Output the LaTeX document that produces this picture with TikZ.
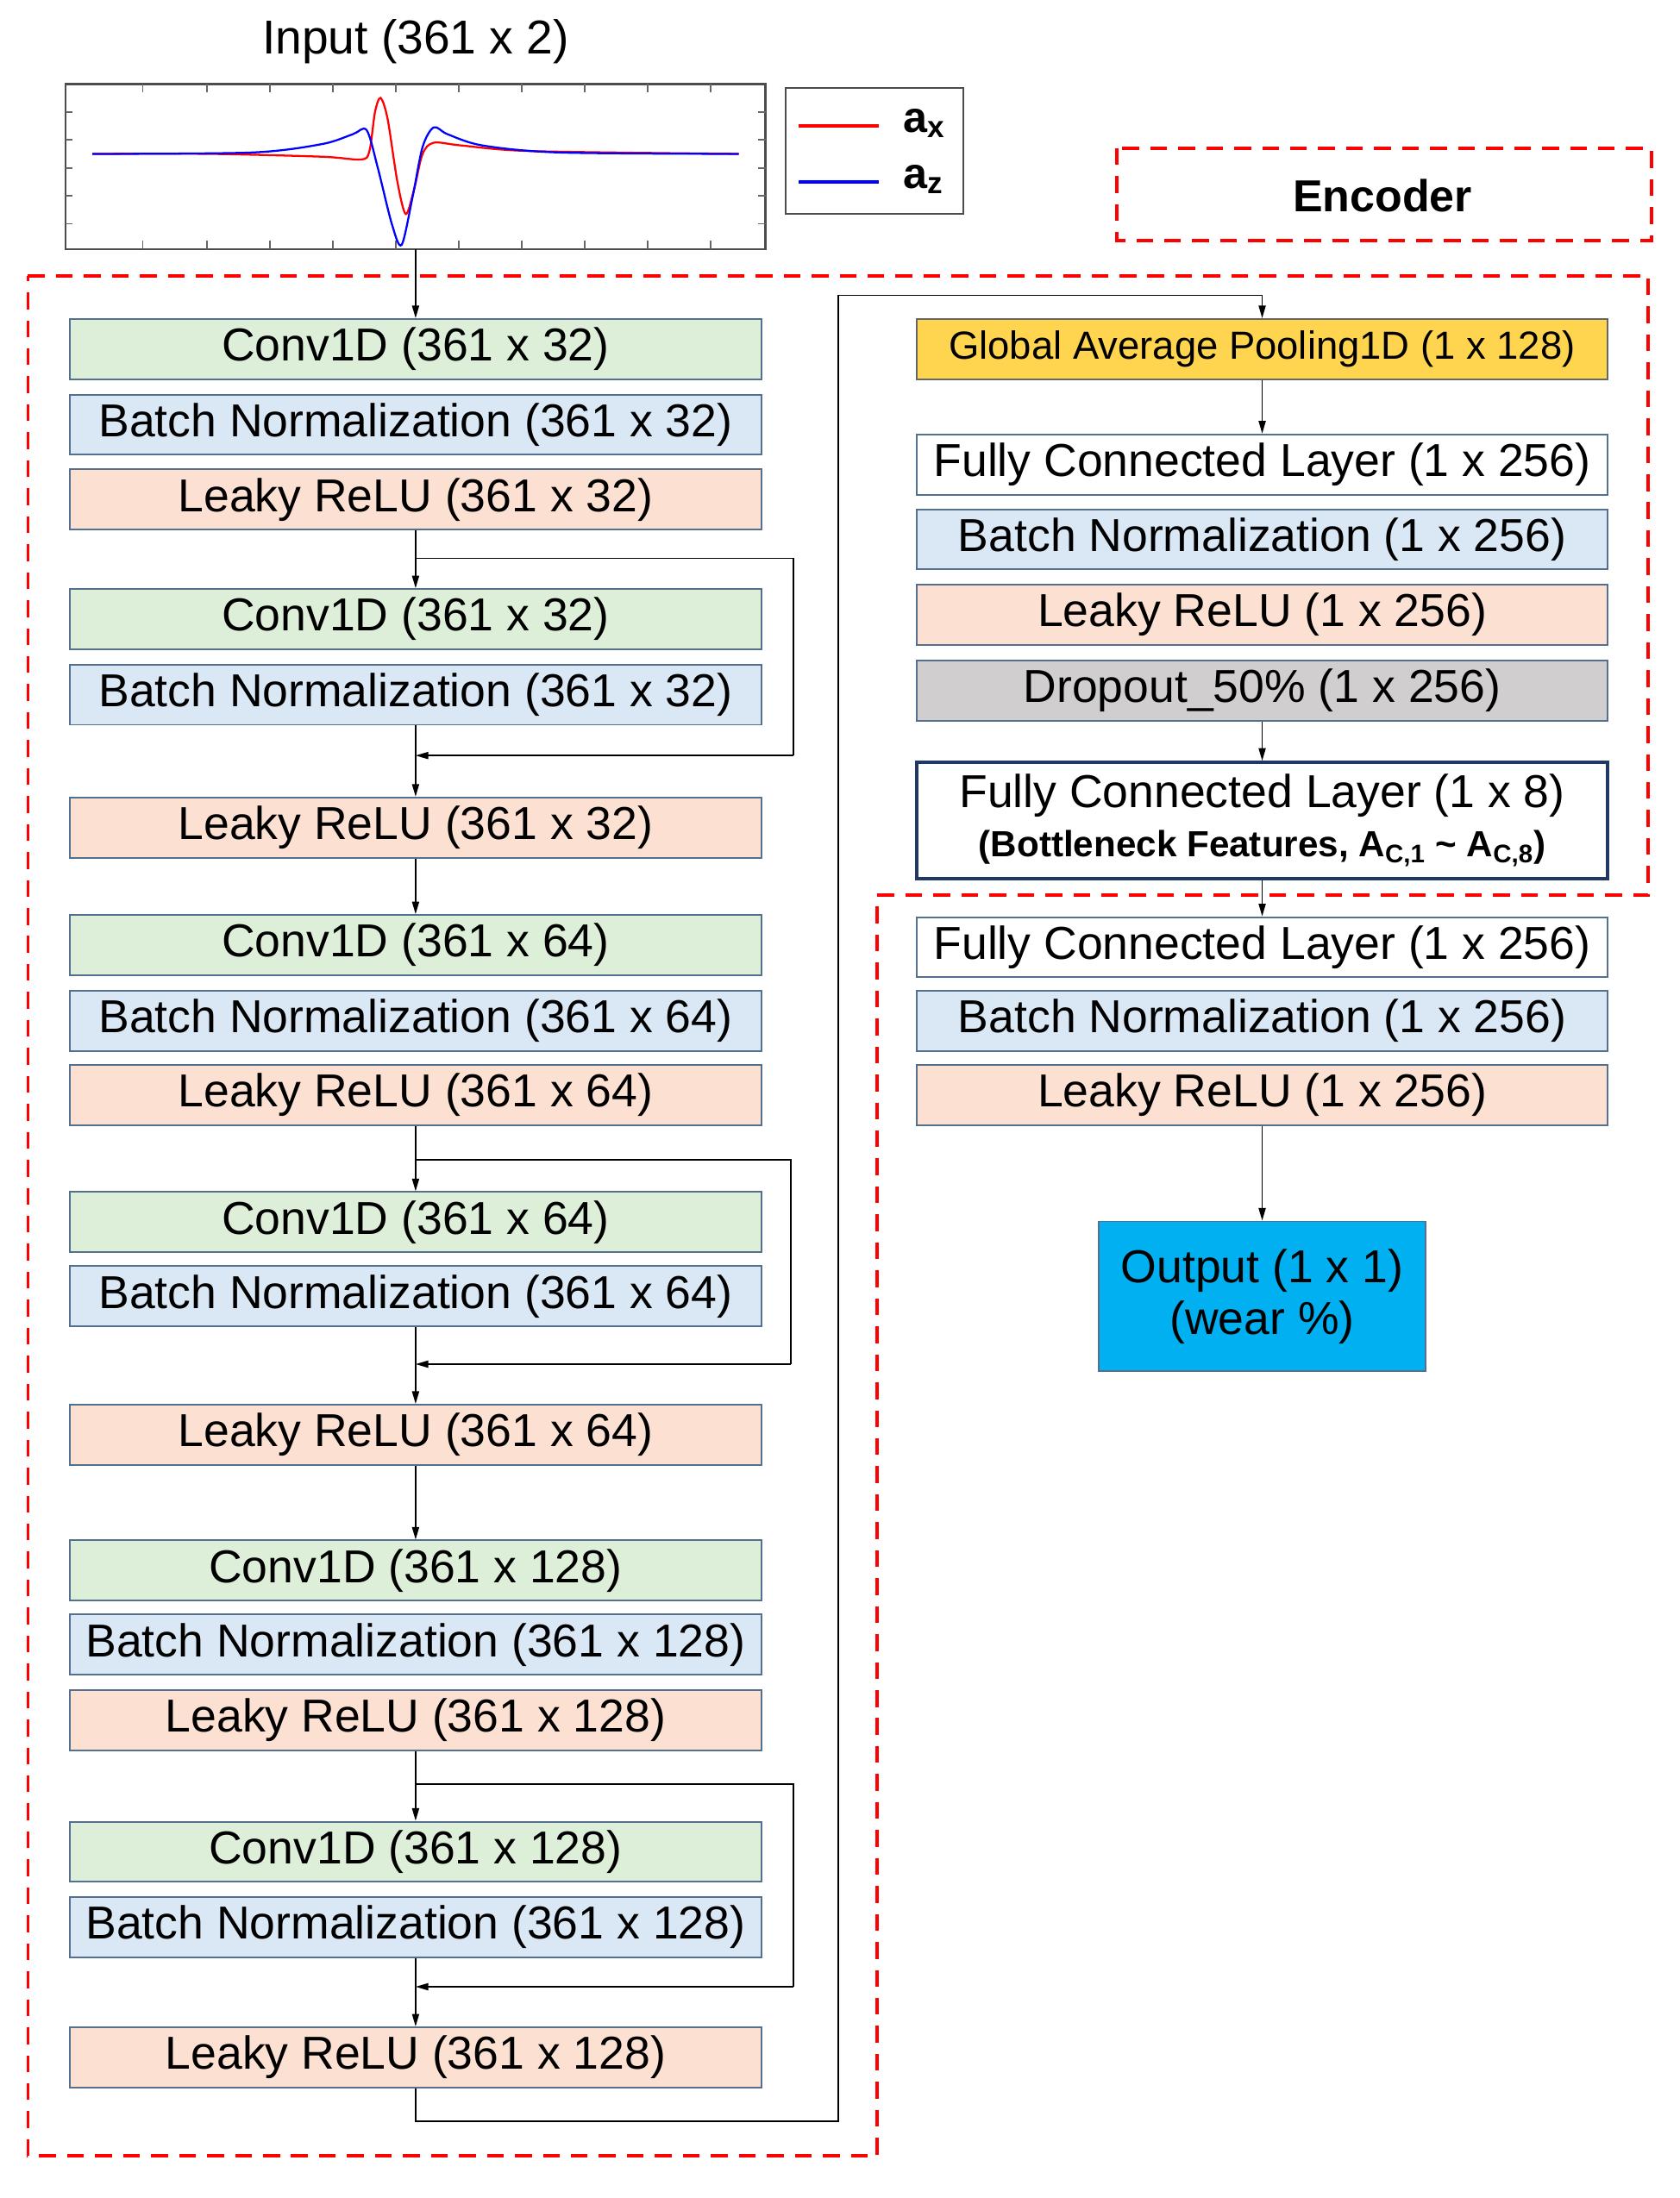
\documentclass[tikz,border=0pt]{standalone}
\usepackage{fontspec}
\setmainfont{Liberation Sans}
\usetikzlibrary{arrows.meta}
\definecolor{cgreen}{HTML}{DDEFD9}
\definecolor{cblue}{HTML}{DAE8F5}
\definecolor{cpeach}{HTML}{FCE0D2}
\definecolor{cgray}{HTML}{D0CECE}
\definecolor{cyell}{HTML}{FFD54F}
\definecolor{ccyan}{HTML}{00B0F0}
\definecolor{bord}{HTML}{55708F}
\definecolor{navy}{HTML}{1F3864}
\begin{document}
\begin{tikzpicture}[x=1pt,y=-1pt,
  lay/.style={draw=bord,line width=1.2pt,minimum width=494pt,minimum height=43pt,inner sep=0pt,font=\fontsize{33}{37}\selectfont},
  conv/.style={lay,fill=cgreen},
  bn/.style={lay,fill=cblue},
  lr/.style={lay,fill=cpeach},
  arr/.style={-{Triangle[length=9pt,width=5pt]},line width=1pt},
  ln/.style={line width=1pt},
  encbox/.style={draw=red,line width=2.4pt,dash pattern=on 12pt off 8pt}]
\useasboundingbox (0,0) rectangle (1200,1571);
% input
\node[font=\fontsize{34}{38}\selectfont] (title) at (297,30) {Input (361 x 2)};
\node[draw=black!70,line width=1.5pt,minimum width=500pt,minimum height=118pt,inner sep=0pt] (plot) at (297,119) {};
\foreach \x in {102,148,193,238,283,328,373,418,463,508}{\draw[black!60,line width=1pt] (\x,60)--(\x,66) (\x,178)--(\x,172);}
\foreach \y in {80,100,120,140,160}{\draw[black!60,line width=1pt] (47,\y)--(52,\y) (547,\y)--(542,\y);}
\draw[red,line width=1.4pt] plot[smooth] coordinates {(66,110)(150,110)(230,112)(258,114)(264,108)(268,80)(272,70)(277,85)(284,130)(290,153)(296,135)(302,110)(310,102)(330,104)(380,108)(528,110)};
\draw[blue,line width=1.4pt] plot[smooth] coordinates {(66,110)(180,109)(230,103)(252,96)(262,93)(270,120)(280,160)(287,175)(295,140)(302,105)(310,91)(320,96)(345,104)(400,109)(528,110)};
\node[draw=black!70,line width=1.5pt,minimum width=127pt,minimum height=90pt,inner sep=0pt] (leg) at (625,108) {};
\draw[red,line width=2.5pt] (571,90)--(628,90);
\draw[blue,line width=2.5pt] (571,130)--(628,130);
\node[font=\fontsize{31}{33}\selectfont\bfseries,anchor=west] (lax) at (642,88) {a\textsubscript{x}};
\node[font=\fontsize{31}{33}\selectfont\bfseries,anchor=west] (laz) at (642,128) {a\textsubscript{z}};
% encoder frames
\draw[encbox] (798,106) rectangle (1180,172);
\node[font=\fontsize{32}{36}\selectfont\bfseries] (enc) at (988,140) {Encoder};
\draw[encbox] (20,197) -- (1178,197) -- (1178,640) -- (627,640) -- (627,1541) -- (20,1541) -- cycle;
% left column
\node[conv] (c1) at (297,249.5) {Conv1D (361 x 32)};
\node[bn] (b1) at (297,303.5) {Batch Normalization (361 x 32)};
\node[lr] (l1) at (297,357) {Leaky ReLU (361 x 32)};
\node[conv] (c2) at (297,442.5) {Conv1D (361 x 32)};
\node[bn] (b2) at (297,496.5) {Batch Normalization (361 x 32)};
\node[lr] (l2) at (297,591.5) {Leaky ReLU (361 x 32)};
\node[conv] (c3) at (297,675.5) {Conv1D (361 x 64)};
\node[bn] (b3) at (297,729.5) {Batch Normalization (361 x 64)};
\node[lr] (l3) at (297,782.5) {Leaky ReLU (361 x 64)};
\node[conv] (c4) at (297,873.5) {Conv1D (361 x 64)};
\node[bn] (b4) at (297,926.5) {Batch Normalization (361 x 64)};
\node[lr] (l4) at (297,1025.5) {Leaky ReLU (361 x 64)};
\node[conv] (c5) at (297,1122.5) {Conv1D (361 x 128)};
\node[bn] (b5) at (297,1175.5) {Batch Normalization (361 x 128)};
\node[lr] (l5) at (297,1229.5) {Leaky ReLU (361 x 128)};
\node[conv] (c6) at (297,1323.5) {Conv1D (361 x 128)};
\node[bn] (b6) at (297,1377.5) {Batch Normalization (361 x 128)};
\node[lr] (l6) at (297,1470.5) {Leaky ReLU (361 x 128)};
% right column
\node[lay,fill=cyell,draw=black!60,font=\fontsize{28}{32}\selectfont] (gap) at (902,249.5) {Global Average Pooling1D (1 x 128)};
\node[lay,fill=white] (f1) at (902,332) {Fully Connected Layer (1 x 256)};
\node[bn] (rb1) at (902,385.5) {Batch Normalization (1 x 256)};
\node[lr] (rl1) at (902,439.5) {Leaky ReLU (1 x 256)};
\node[lay,fill=cgray] (dr) at (902,493.5) {Dropout\_50\% (1 x 256)};
\node[lay,fill=white,draw=navy,line width=2.5pt,minimum height=83pt,align=center] (f8) at (902,586.5) {Fully Connected Layer (1 x 8)\\[-2pt]{\fontsize{26}{28}\selectfont\bfseries (Bottleneck Features, A\textsubscript{C,1} \textasciitilde{} A\textsubscript{C,8})}};
\node[lay,fill=white] (f2) at (902,677) {Fully Connected Layer (1 x 256)};
\node[bn] (rb2) at (902,729.5) {Batch Normalization (1 x 256)};
\node[lr] (rl2) at (902,782.5) {Leaky ReLU (1 x 256)};
\node[lay,fill=ccyan,draw=bord,minimum width=234pt,minimum height=107pt,align=center] (out) at (902,926.5) {Output (1 x 1)\\(wear \%)};
% connectors
\coordinate (s0) at (297,178);
\draw[arr] (s0) -- (c1.north);
\draw[arr] (l1.south) -- (c2.north);
\draw[ln] (297,399) -- (567,399) -- (567,540);
\draw[arr] (567,540) -- (297,540);
\draw[arr] (b2.south) -- (l2.north);
\draw[arr] (l2.south) -- (c3.north);
\draw[arr] (l3.south) -- (c4.north);
\draw[ln] (297,829) -- (565,829) -- (565,975);
\draw[arr] (565,975) -- (297,975);
\draw[arr] (b4.south) -- (l4.north);
\draw[arr] (l4.south) -- (c5.north);
\draw[arr] (l5.south) -- (c6.north);
\draw[ln] (297,1275) -- (567,1275) -- (567,1420);
\draw[arr] (567,1420) -- (297,1420);
\draw[arr] (b6.south) -- (l6.north);
\draw[ln] (l6.south) -- (297,1516) -- (599,1516) -- (599,211) -- (902,211);
\draw[arr] (902,211) -- (gap.north);
\draw[arr] (gap.south) -- (f1.north);
\draw[arr] (dr.south) -- (f8.north);
\draw[arr] (f8.south) -- (f2.north);
\draw[arr] (rl2.south) -- (out.north);
\end{tikzpicture}
\end{document}
